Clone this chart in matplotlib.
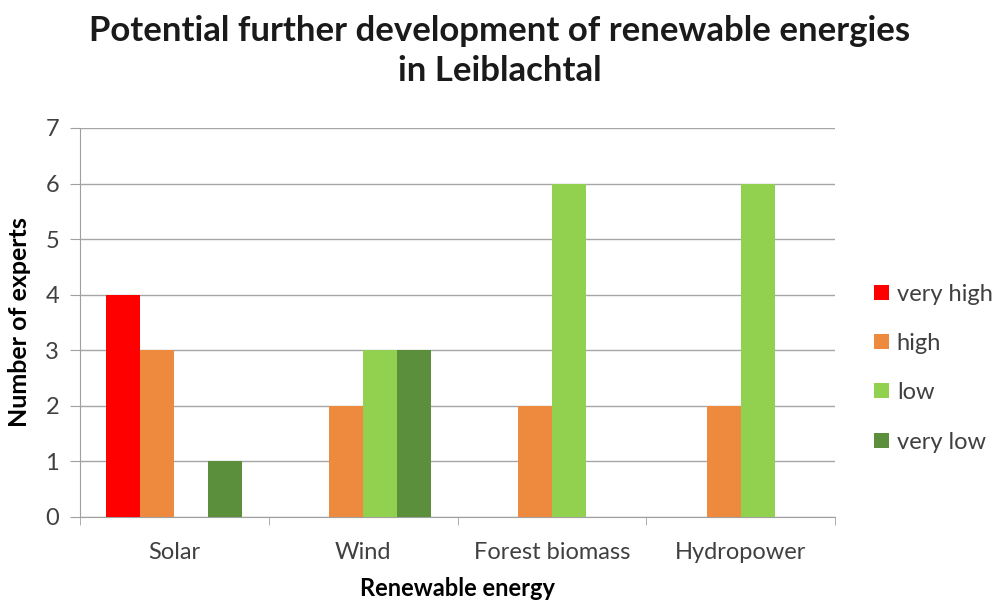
import numpy as np
import matplotlib.pyplot as plt

plt.rcParams['font.family'] = ['Lato', 'DejaVu Sans']

## Dados
categorias = ['Solar', 'Wind', 'Forest biomass', 'Hydropower']
very_high = [4, 0, 0, 0]
high = [3, 2, 2, 2]
low = [0, 3, 6, 6]
very_low = [1, 3, 0, 0]

series = [('very high', very_high, '#FF0000'),
          ('high', high, '#EE8A3E'),
          ('low', low, '#92D050'),
          ('very low', very_low, '#5B8F3C')]

## Gráfico
fig = plt.figure(figsize=(10, 6.02), dpi=100)
ax = fig.add_axes([0.08, 0.1412, 0.755, 0.6462])

x = np.arange(len(categorias))
w = 0.18
for i, (nome, vals, cor) in enumerate(series):
    ax.bar(x + (i - 1.5) * w, vals, w, color=cor, label=nome, zorder=3)

ax.set_xlim(-0.5, len(categorias) - 0.5)
ax.set_ylim(0, 7)
ax.set_yticks(range(8))
ax.set_xticks(x)
ax.set_xticklabels(categorias, fontsize=17, color='#404040')
ax.set_xticks(np.arange(-0.5, len(categorias)), minor=True)
ax.tick_params(axis='x', which='major', length=0, pad=18)
ax.tick_params(axis='x', which='minor', length=6, color='#A0A0A0')
ax.tick_params(axis='y', length=7, color='#A0A0A0', labelsize=17, labelcolor='#404040', pad=8)
ax.grid(axis='y', color='#A6A6A6', linewidth=1, zorder=0)
for s in ['top', 'right']:
    ax.spines[s].set_visible(False)
for s in ['left', 'bottom']:
    ax.spines[s].set_color('#A0A0A0')

ax.set_xlabel('Renewable energy', fontsize=17, fontweight='bold', labelpad=10)
ax.set_ylabel('Number of experts', fontsize=18, fontweight='bold', labelpad=10)

fig.suptitle('Potential further development of renewable energies\nin Leiblachtal',
             fontsize=25, fontweight='bold', y=0.975, linespacing=1.3, color='#1A1A1A')

ax.legend(loc='center left', bbox_to_anchor=(1.024, 0.383), frameon=False,
          fontsize=17, handlelength=0.6, handleheight=0.6, labelspacing=1.2,
          handletextpad=0.35, labelcolor='#404040')

plt.savefig('out.png')
